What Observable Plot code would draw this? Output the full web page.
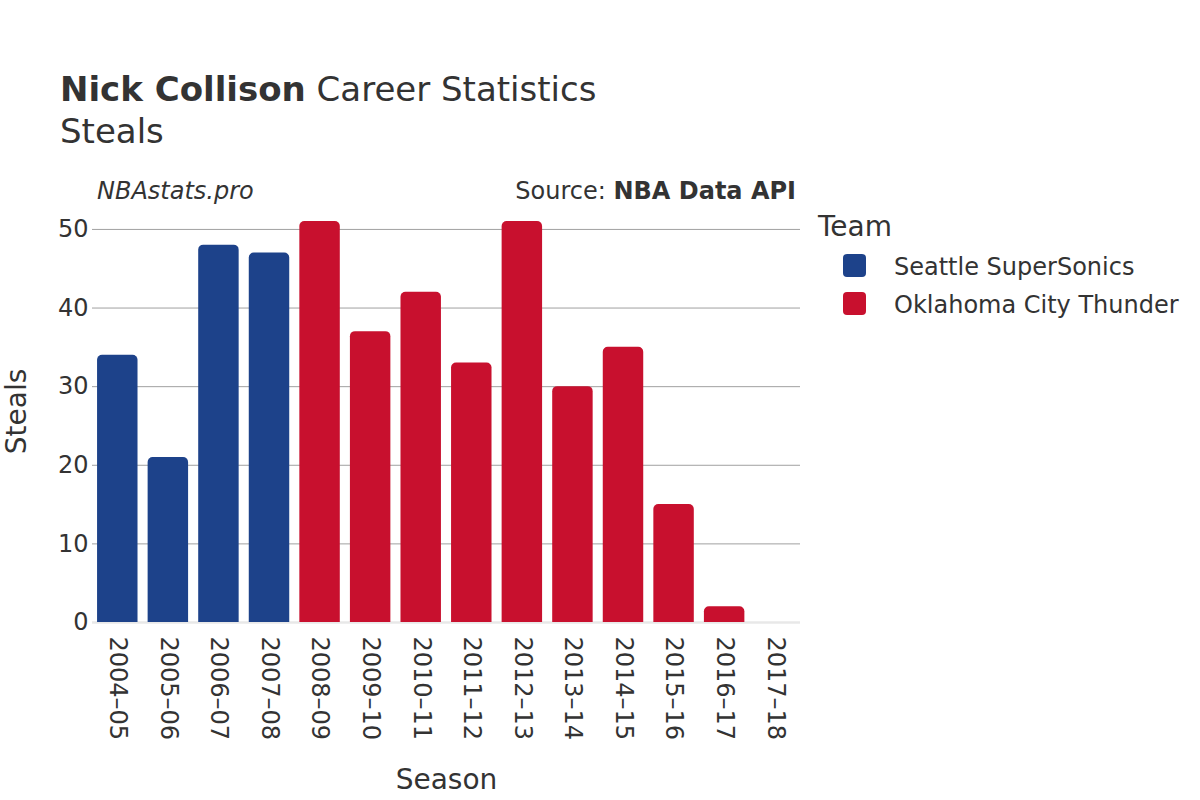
<!DOCTYPE html>
<html>
<head>
<meta charset="utf-8">
<script src="https://cdn.jsdelivr.net/npm/d3@7"></script>
<script src="https://cdn.jsdelivr.net/npm/@observablehq/plot@0.6"></script>
<style>
  html, body { margin: 0; padding: 0; background: #fff; }
  body { width: 1200px; height: 800px; position: relative; overflow: hidden; font-family: "DejaVu Sans", sans-serif; color: #333; }
  .t { position: absolute; white-space: nowrap; line-height: 1; }
  #chart { position: absolute; left: 0; top: 0; }
</style>
</head>
<body>
<div id="chart"></div>
<div class="t" style="left:60px; top:72px; font-size:34px;"><b>Nick Collison</b> Career Statistics</div>
<div class="t" style="left:60px; top:114px; font-size:34px;">Steals</div>
<div class="t" style="left:97px; top:179px; font-size:24px; font-style:italic;">NBAstats.pro</div>
<div class="t" style="right:404px; top:179px; font-size:24px;">Source: <b>NBA Data API</b></div>
<div class="t" style="left:818px; top:213px; font-size:28px;">Team</div>
<div id="legend"></div>
<script>
const seasons = ["2004–05","2005–06","2006–07","2007–08","2008–09","2009–10","2010–11","2011–12","2012–13","2013–14","2014–15","2015–16","2016–17","2017–18"];
const teams = ["Seattle SuperSonics","Seattle SuperSonics","Seattle SuperSonics","Seattle SuperSonics","Oklahoma City Thunder","Oklahoma City Thunder","Oklahoma City Thunder","Oklahoma City Thunder","Oklahoma City Thunder","Oklahoma City Thunder","Oklahoma City Thunder","Oklahoma City Thunder","Oklahoma City Thunder","Oklahoma City Thunder"];
const steals = [34, 21, 48, 47, 51, 37, 42, 33, 51, 30, 35, 15, 2, 0];
const teamNames = ["Seattle SuperSonics", "Oklahoma City Thunder"];
const teamColors = ["#1d428a", "#c8102e"];
const yTicks = [0, 10, 20, 30, 40, 50];

const data = seasons.map((s, i) => ({season: s, team: teams[i], steals: steals[i]}));

const chart = Plot.plot({
  width: 1200,
  height: 800,
  marginLeft: 92,
  marginRight: 400,
  marginTop: 200,
  marginBottom: 178,
  style: {fontFamily: "DejaVu Sans, sans-serif", fontSize: "24px", color: "#333", background: "transparent"},
  x: {domain: seasons, paddingInner: 0.2, paddingOuter: 0.1, round: false, label: null, axis: null},
  y: {domain: [0, 53.68], label: null, axis: null},
  color: {domain: teamNames, range: teamColors},
  marks: [
    Plot.ruleY(yTicks.filter(d => d > 0), {stroke: "#a0a0a0", strokeWidth: 1}),
    Plot.ruleY([0], {stroke: "#e8e8e8", strokeWidth: 2.5}),
    Plot.barY(data, {x: "season", y: "steals", fill: "team", ariaLabel: "steals-bar"}),
    Plot.axisY(yTicks, {anchor: "left", tickSize: 0, tickPadding: 4, fontSize: 24, fill: "#333", label: null}),
    Plot.axisX({anchor: "bottom", tickSize: 0, tickRotate: 90, tickPadding: 14, fontSize: 24, fill: "#333", label: null, textAnchor: "start"}),
    Plot.text(["Season"], {frameAnchor: "bottom", dy: 166, fontSize: 28, fill: "#333"}),
    Plot.text(["Steals"], {frameAnchor: "left", textAnchor: "middle", dx: -75, rotate: -90, fontSize: 28, fill: "#333"})
  ]
});

// round only the top corners of the bars Plot drew
chart.querySelectorAll('g[aria-label="steals-bar"] rect, g[aria-label="bar"] rect').forEach(rect => {
  const x = +rect.getAttribute("x"), y = +rect.getAttribute("y");
  const w = +rect.getAttribute("width"), h = +rect.getAttribute("height");
  const r = Math.min(5, w / 2, h / 2);
  const p = document.createElementNS("http://www.w3.org/2000/svg", "path");
  p.setAttribute("d", `M${x},${y + h}V${y + r}A${r},${r} 0 0 1 ${x + r},${y}H${x + w - r}A${r},${r} 0 0 1 ${x + w},${y + r}V${y + h}Z`);
  for (const a of rect.attributes) {
    if (!["x", "y", "width", "height"].includes(a.name)) p.setAttribute(a.name, a.value);
  }
  rect.replaceWith(p);
});
document.getElementById("chart").appendChild(chart);

// legend built from the same color scale
const legend = document.getElementById("legend");
const cs = chart.scale("color");
teamNames.forEach((t, i) => {
  const sw = document.createElement("div");
  sw.style.cssText = `position:absolute; left:843px; top:${254 + i*38}px; width:23px; height:23px; border-radius:4px; background:${cs.apply(t)};`;
  legend.appendChild(sw);
  const lab = document.createElement("div");
  lab.className = "t";
  lab.style.cssText = `left:894px; top:${255 + i*38}px; font-size:24px;`;
  lab.textContent = t;
  legend.appendChild(lab);
});
</script>
</body>
</html>
